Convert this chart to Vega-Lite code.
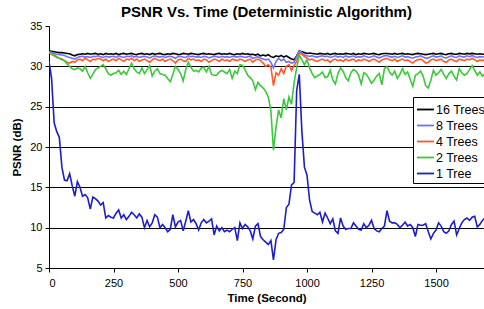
{
"$schema":"https://vega.github.io/schema/vega-lite/v6.json",
"width":435,"height":242,
"autosize":{"type":"none"},
"padding":{"left":49,"top":26,"right":0,"bottom":41},
"background":"white",
"config":{"view":{"stroke":null},"font":"Liberation Sans"},
"title":{"text":"PSNR Vs. Time (Deterministic Algorithm)","font":"Liberation Sans","fontSize":15,"fontWeight":"bold","color":"#000","anchor":"middle","offset":0},
"data":{"values":[
{"t":0,"16 Trees":31.9,"8 Trees":31.8,"4 Trees":31.7,"2 Trees":31.7,"1 Tree":30.6},
{"t":10,"16 Trees":31.85,"8 Trees":31.75,"4 Trees":31.5,"2 Trees":31.6,"1 Tree":28.5},
{"t":20,"16 Trees":31.8,"8 Trees":31.6,"4 Trees":31.3,"2 Trees":31.4,"1 Tree":23.0},
{"t":30,"16 Trees":31.75,"8 Trees":31.5,"4 Trees":31.1,"2 Trees":31.2,"1 Tree":21.9},
{"t":40,"16 Trees":31.7,"8 Trees":31.45,"4 Trees":31.0,"2 Trees":31.0,"1 Tree":21.2},
{"t":50,"16 Trees":31.7,"8 Trees":31.4,"4 Trees":30.9,"2 Trees":30.8,"1 Tree":17.5},
{"t":60,"16 Trees":31.65,"8 Trees":31.35,"4 Trees":30.7,"2 Trees":30.7,"1 Tree":15.9},
{"t":70,"16 Trees":31.6,"8 Trees":31.2,"4 Trees":30.5,"2 Trees":30.3,"1 Tree":15.8},
{"t":80,"16 Trees":31.55,"8 Trees":31.1,"4 Trees":30.4,"2 Trees":30.0,"1 Tree":16.7},
{"t":90,"16 Trees":31.4,"8 Trees":31.0,"4 Trees":30.6,"2 Trees":29.7,"1 Tree":15.2},
{"t":100,"16 Trees":31.3,"8 Trees":30.9,"4 Trees":30.5,"2 Trees":29.6,"1 Tree":13.9},
{"t":110,"16 Trees":31.45,"8 Trees":31.1,"4 Trees":30.8,"2 Trees":29.8,"1 Tree":15.7},
{"t":120,"16 Trees":31.5,"8 Trees":31.2,"4 Trees":30.9,"2 Trees":29.7,"1 Tree":15.0},
{"t":130,"16 Trees":31.55,"8 Trees":31.25,"4 Trees":30.7,"2 Trees":29.4,"1 Tree":13.9},
{"t":140,"16 Trees":31.5,"8 Trees":31.15,"4 Trees":31.0,"2 Trees":30.0,"1 Tree":14.1},
{"t":150,"16 Trees":31.6,"8 Trees":31.2,"4 Trees":30.8,"2 Trees":29.2,"1 Tree":13.7},
{"t":160,"16 Trees":31.5,"8 Trees":31.1,"4 Trees":30.6,"2 Trees":28.5,"1 Tree":12.3},
{"t":170,"16 Trees":31.55,"8 Trees":31.25,"4 Trees":30.9,"2 Trees":29.0,"1 Tree":13.8},
{"t":180,"16 Trees":31.6,"8 Trees":31.2,"4 Trees":30.8,"2 Trees":29.6,"1 Tree":13.6},
{"t":190,"16 Trees":31.5,"8 Trees":31.3,"4 Trees":31.0,"2 Trees":29.8,"1 Tree":13.3},
{"t":200,"16 Trees":31.55,"8 Trees":31.2,"4 Trees":30.9,"2 Trees":30.0,"1 Tree":12.8},
{"t":210,"16 Trees":31.45,"8 Trees":31.1,"4 Trees":30.7,"2 Trees":30.2,"1 Tree":13.1},
{"t":220,"16 Trees":31.6,"8 Trees":31.25,"4 Trees":30.9,"2 Trees":29.7,"1 Tree":11.2},
{"t":230,"16 Trees":31.5,"8 Trees":31.15,"4 Trees":30.6,"2 Trees":29.1,"1 Tree":11.5},
{"t":240,"16 Trees":31.55,"8 Trees":31.2,"4 Trees":30.8,"2 Trees":28.9,"1 Tree":11.3},
{"t":250,"16 Trees":31.5,"8 Trees":31.25,"4 Trees":30.9,"2 Trees":29.1,"1 Tree":11.2},
{"t":260,"16 Trees":31.6,"8 Trees":31.1,"4 Trees":30.7,"2 Trees":29.2,"1 Tree":11.8},
{"t":270,"16 Trees":31.45,"8 Trees":31.3,"4 Trees":31.0,"2 Trees":29.5,"1 Tree":12.2},
{"t":280,"16 Trees":31.55,"8 Trees":31.2,"4 Trees":30.8,"2 Trees":29.0,"1 Tree":11.2},
{"t":290,"16 Trees":31.6,"8 Trees":31.1,"4 Trees":30.6,"2 Trees":29.4,"1 Tree":11.6},
{"t":300,"16 Trees":31.5,"8 Trees":31.25,"4 Trees":30.9,"2 Trees":29.0,"1 Tree":11.0},
{"t":310,"16 Trees":31.55,"8 Trees":31.2,"4 Trees":30.8,"2 Trees":29.7,"1 Tree":11.4},
{"t":320,"16 Trees":31.6,"8 Trees":31.3,"4 Trees":31.0,"2 Trees":30.4,"1 Tree":11.9},
{"t":330,"16 Trees":31.5,"8 Trees":31.15,"4 Trees":30.7,"2 Trees":29.7,"1 Tree":11.6},
{"t":340,"16 Trees":31.45,"8 Trees":31.25,"4 Trees":30.9,"2 Trees":29.3,"1 Tree":11.2},
{"t":350,"16 Trees":31.55,"8 Trees":31.1,"4 Trees":30.6,"2 Trees":29.1,"1 Tree":11.7},
{"t":360,"16 Trees":31.6,"8 Trees":31.2,"4 Trees":30.8,"2 Trees":29.8,"1 Tree":11.3},
{"t":370,"16 Trees":31.5,"8 Trees":31.25,"4 Trees":30.9,"2 Trees":29.1,"1 Tree":10.0},
{"t":380,"16 Trees":31.55,"8 Trees":31.15,"4 Trees":30.7,"2 Trees":29.6,"1 Tree":10.9},
{"t":390,"16 Trees":31.45,"8 Trees":31.05,"4 Trees":30.5,"2 Trees":30.1,"1 Tree":10.1},
{"t":400,"16 Trees":31.6,"8 Trees":31.2,"4 Trees":30.8,"2 Trees":28.8,"1 Tree":10.6},
{"t":410,"16 Trees":31.5,"8 Trees":31.3,"4 Trees":31.0,"2 Trees":29.4,"1 Tree":11.6},
{"t":420,"16 Trees":31.55,"8 Trees":31.2,"4 Trees":30.8,"2 Trees":29.7,"1 Tree":11.3},
{"t":430,"16 Trees":31.6,"8 Trees":31.15,"4 Trees":30.7,"2 Trees":29.1,"1 Tree":10.0},
{"t":440,"16 Trees":31.5,"8 Trees":31.25,"4 Trees":30.9,"2 Trees":29.0,"1 Tree":10.4},
{"t":450,"16 Trees":31.45,"8 Trees":31.1,"4 Trees":30.6,"2 Trees":28.9,"1 Tree":10.0},
{"t":460,"16 Trees":31.55,"8 Trees":31.2,"4 Trees":30.8,"2 Trees":28.5,"1 Tree":9.5},
{"t":470,"16 Trees":31.5,"8 Trees":31.25,"4 Trees":30.9,"2 Trees":28.1,"1 Tree":9.8},
{"t":480,"16 Trees":31.6,"8 Trees":31.15,"4 Trees":30.7,"2 Trees":29.0,"1 Tree":11.6},
{"t":490,"16 Trees":31.55,"8 Trees":31.0,"4 Trees":30.4,"2 Trees":30.0,"1 Tree":10.1},
{"t":500,"16 Trees":31.45,"8 Trees":31.2,"4 Trees":30.8,"2 Trees":29.6,"1 Tree":10.7},
{"t":510,"16 Trees":31.5,"8 Trees":31.25,"4 Trees":30.9,"2 Trees":29.1,"1 Tree":10.9},
{"t":520,"16 Trees":31.6,"8 Trees":31.15,"4 Trees":30.7,"2 Trees":28.2,"1 Tree":9.6},
{"t":530,"16 Trees":31.55,"8 Trees":31.1,"4 Trees":30.6,"2 Trees":29.6,"1 Tree":10.8},
{"t":540,"16 Trees":31.5,"8 Trees":31.3,"4 Trees":31.0,"2 Trees":30.5,"1 Tree":12.1},
{"t":550,"16 Trees":31.6,"8 Trees":31.2,"4 Trees":30.8,"2 Trees":29.9,"1 Tree":10.7},
{"t":560,"16 Trees":31.55,"8 Trees":31.25,"4 Trees":30.9,"2 Trees":29.4,"1 Tree":11.0},
{"t":570,"16 Trees":31.5,"8 Trees":31.15,"4 Trees":30.7,"2 Trees":29.5,"1 Tree":10.5},
{"t":580,"16 Trees":31.45,"8 Trees":31.2,"4 Trees":30.8,"2 Trees":29.3,"1 Tree":9.7},
{"t":590,"16 Trees":31.55,"8 Trees":31.1,"4 Trees":30.6,"2 Trees":29.8,"1 Tree":10.6},
{"t":600,"16 Trees":31.6,"8 Trees":31.25,"4 Trees":30.9,"2 Trees":29.9,"1 Tree":11.0},
{"t":610,"16 Trees":31.5,"8 Trees":31.2,"4 Trees":30.8,"2 Trees":29.3,"1 Tree":10.6},
{"t":620,"16 Trees":31.55,"8 Trees":31.05,"4 Trees":30.5,"2 Trees":30.0,"1 Tree":10.8},
{"t":630,"16 Trees":31.5,"8 Trees":31.15,"4 Trees":30.7,"2 Trees":29.0,"1 Tree":11.1},
{"t":640,"16 Trees":31.45,"8 Trees":31.25,"4 Trees":30.9,"2 Trees":28.9,"1 Tree":9.1},
{"t":650,"16 Trees":31.55,"8 Trees":31.2,"4 Trees":30.8,"2 Trees":28.9,"1 Tree":10.2},
{"t":660,"16 Trees":31.6,"8 Trees":31.1,"4 Trees":30.6,"2 Trees":29.3,"1 Tree":9.6},
{"t":670,"16 Trees":31.5,"8 Trees":31.25,"4 Trees":30.9,"2 Trees":29.5,"1 Tree":10.0},
{"t":680,"16 Trees":31.55,"8 Trees":31.15,"4 Trees":30.7,"2 Trees":29.3,"1 Tree":9.5},
{"t":690,"16 Trees":31.5,"8 Trees":31.2,"4 Trees":30.8,"2 Trees":29.1,"1 Tree":9.7},
{"t":700,"16 Trees":31.6,"8 Trees":31.1,"4 Trees":30.6,"2 Trees":29.6,"1 Tree":9.5},
{"t":710,"16 Trees":31.5,"8 Trees":31.25,"4 Trees":30.9,"2 Trees":28.5,"1 Tree":9.8},
{"t":720,"16 Trees":31.45,"8 Trees":31.2,"4 Trees":30.8,"2 Trees":29.4,"1 Tree":10.0},
{"t":730,"16 Trees":31.55,"8 Trees":31.15,"4 Trees":30.7,"2 Trees":29.1,"1 Tree":8.4},
{"t":740,"16 Trees":31.5,"8 Trees":31.25,"4 Trees":30.9,"2 Trees":30.2,"1 Tree":10.6},
{"t":750,"16 Trees":31.6,"8 Trees":31.2,"4 Trees":30.8,"2 Trees":30.1,"1 Tree":9.9},
{"t":760,"16 Trees":31.5,"8 Trees":31.1,"4 Trees":30.6,"2 Trees":29.6,"1 Tree":10.4},
{"t":770,"16 Trees":31.55,"8 Trees":31.2,"4 Trees":30.8,"2 Trees":28.9,"1 Tree":10.1},
{"t":780,"16 Trees":31.45,"8 Trees":31.25,"4 Trees":30.9,"2 Trees":28.6,"1 Tree":9.6},
{"t":790,"16 Trees":31.5,"8 Trees":31.0,"4 Trees":30.5,"2 Trees":28.2,"1 Tree":8.6},
{"t":800,"16 Trees":31.4,"8 Trees":31.1,"4 Trees":30.8,"2 Trees":27.1,"1 Tree":10.2},
{"t":810,"16 Trees":31.5,"8 Trees":31.2,"4 Trees":30.9,"2 Trees":28.0,"1 Tree":10.5},
{"t":820,"16 Trees":31.3,"8 Trees":31.0,"4 Trees":30.7,"2 Trees":27.6,"1 Tree":8.9},
{"t":830,"16 Trees":31.4,"8 Trees":30.9,"4 Trees":30.4,"2 Trees":27.3,"1 Tree":8.5},
{"t":840,"16 Trees":31.3,"8 Trees":30.8,"4 Trees":30.0,"2 Trees":26.9,"1 Tree":8.2},
{"t":850,"16 Trees":31.45,"8 Trees":30.9,"4 Trees":30.2,"2 Trees":26.2,"1 Tree":7.9},
{"t":860,"16 Trees":31.2,"8 Trees":30.5,"4 Trees":29.9,"2 Trees":24.5,"1 Tree":8.4},
{"t":870,"16 Trees":31.1,"8 Trees":29.8,"4 Trees":27.6,"2 Trees":19.6,"1 Tree":6.0},
{"t":880,"16 Trees":31.3,"8 Trees":30.6,"4 Trees":29.2,"2 Trees":22.5,"1 Tree":8.5},
{"t":890,"16 Trees":31.2,"8 Trees":31.0,"4 Trees":28.9,"2 Trees":24.6,"1 Tree":9.3},
{"t":900,"16 Trees":31.35,"8 Trees":30.7,"4 Trees":29.7,"2 Trees":23.6,"1 Tree":9.4},
{"t":910,"16 Trees":31.15,"8 Trees":30.9,"4 Trees":29.1,"2 Trees":26.0,"1 Tree":9.8},
{"t":920,"16 Trees":31.3,"8 Trees":30.5,"4 Trees":30.0,"2 Trees":24.6,"1 Tree":12.5},
{"t":930,"16 Trees":31.1,"8 Trees":30.6,"4 Trees":30.2,"2 Trees":26.2,"1 Tree":12.9},
{"t":940,"16 Trees":30.9,"8 Trees":30.4,"4 Trees":29.5,"2 Trees":25.3,"1 Tree":15.3},
{"t":950,"16 Trees":30.8,"8 Trees":30.5,"4 Trees":30.1,"2 Trees":28.0,"1 Tree":15.6},
{"t":960,"16 Trees":31.3,"8 Trees":31.2,"4 Trees":30.6,"2 Trees":29.8,"1 Tree":27.0},
{"t":970,"16 Trees":31.9,"8 Trees":31.9,"4 Trees":31.6,"2 Trees":31.4,"1 Tree":29.0},
{"t":980,"16 Trees":31.8,"8 Trees":31.7,"4 Trees":31.5,"2 Trees":30.8,"1 Tree":22.0},
{"t":990,"16 Trees":31.7,"8 Trees":31.4,"4 Trees":31.2,"2 Trees":30.2,"1 Tree":17.5},
{"t":1000,"16 Trees":31.6,"8 Trees":31.3,"4 Trees":31.0,"2 Trees":30.8,"1 Tree":16.5},
{"t":1010,"16 Trees":31.65,"8 Trees":31.25,"4 Trees":30.8,"2 Trees":29.8,"1 Tree":13.4},
{"t":1020,"16 Trees":31.6,"8 Trees":31.3,"4 Trees":30.9,"2 Trees":29.1,"1 Tree":12.0},
{"t":1030,"16 Trees":31.55,"8 Trees":31.2,"4 Trees":30.7,"2 Trees":28.6,"1 Tree":11.8},
{"t":1040,"16 Trees":31.5,"8 Trees":31.15,"4 Trees":30.6,"2 Trees":28.8,"1 Tree":11.6},
{"t":1050,"16 Trees":31.6,"8 Trees":31.25,"4 Trees":30.8,"2 Trees":29.0,"1 Tree":11.9},
{"t":1060,"16 Trees":31.55,"8 Trees":31.3,"4 Trees":30.9,"2 Trees":29.3,"1 Tree":10.7},
{"t":1070,"16 Trees":31.5,"8 Trees":31.2,"4 Trees":30.7,"2 Trees":28.6,"1 Tree":11.8},
{"t":1080,"16 Trees":31.6,"8 Trees":31.25,"4 Trees":30.8,"2 Trees":28.7,"1 Tree":11.2},
{"t":1090,"16 Trees":31.45,"8 Trees":31.1,"4 Trees":30.5,"2 Trees":29.5,"1 Tree":10.5},
{"t":1100,"16 Trees":31.55,"8 Trees":31.2,"4 Trees":30.8,"2 Trees":28.3,"1 Tree":11.1},
{"t":1110,"16 Trees":31.6,"8 Trees":31.3,"4 Trees":30.9,"2 Trees":27.8,"1 Tree":9.6},
{"t":1120,"16 Trees":31.5,"8 Trees":31.15,"4 Trees":30.7,"2 Trees":29.1,"1 Tree":9.3},
{"t":1130,"16 Trees":31.55,"8 Trees":31.25,"4 Trees":30.8,"2 Trees":29.8,"1 Tree":11.2},
{"t":1140,"16 Trees":31.5,"8 Trees":31.1,"4 Trees":30.6,"2 Trees":29.4,"1 Tree":10.2},
{"t":1150,"16 Trees":31.6,"8 Trees":31.3,"4 Trees":30.9,"2 Trees":28.6,"1 Tree":9.8},
{"t":1160,"16 Trees":31.55,"8 Trees":31.15,"4 Trees":30.7,"2 Trees":28.2,"1 Tree":9.9},
{"t":1170,"16 Trees":31.5,"8 Trees":31.2,"4 Trees":30.8,"2 Trees":29.2,"1 Tree":9.9},
{"t":1180,"16 Trees":31.6,"8 Trees":31.3,"4 Trees":30.9,"2 Trees":29.6,"1 Tree":10.6},
{"t":1190,"16 Trees":31.45,"8 Trees":31.1,"4 Trees":30.6,"2 Trees":29.4,"1 Tree":10.2},
{"t":1200,"16 Trees":31.55,"8 Trees":31.2,"4 Trees":30.8,"2 Trees":28.9,"1 Tree":9.8},
{"t":1210,"16 Trees":31.5,"8 Trees":31.15,"4 Trees":30.7,"2 Trees":27.8,"1 Tree":9.7},
{"t":1220,"16 Trees":31.6,"8 Trees":31.3,"4 Trees":30.9,"2 Trees":29.2,"1 Tree":10.5},
{"t":1230,"16 Trees":31.55,"8 Trees":31.2,"4 Trees":30.8,"2 Trees":29.0,"1 Tree":10.0},
{"t":1240,"16 Trees":31.5,"8 Trees":31.1,"4 Trees":30.6,"2 Trees":28.5,"1 Tree":10.3},
{"t":1250,"16 Trees":31.55,"8 Trees":31.2,"4 Trees":30.8,"2 Trees":27.9,"1 Tree":10.9},
{"t":1260,"16 Trees":31.6,"8 Trees":31.3,"4 Trees":30.9,"2 Trees":28.3,"1 Tree":9.9},
{"t":1270,"16 Trees":31.5,"8 Trees":31.15,"4 Trees":30.7,"2 Trees":28.8,"1 Tree":9.6},
{"t":1280,"16 Trees":31.45,"8 Trees":31.05,"4 Trees":30.5,"2 Trees":29.1,"1 Tree":9.5},
{"t":1290,"16 Trees":31.55,"8 Trees":31.2,"4 Trees":30.8,"2 Trees":27.7,"1 Tree":9.9},
{"t":1300,"16 Trees":31.6,"8 Trees":31.3,"4 Trees":30.9,"2 Trees":29.7,"1 Tree":10.2},
{"t":1310,"16 Trees":31.6,"8 Trees":31.35,"4 Trees":31.0,"2 Trees":30.0,"1 Tree":12.1},
{"t":1320,"16 Trees":31.55,"8 Trees":31.2,"4 Trees":30.8,"2 Trees":29.3,"1 Tree":10.8},
{"t":1330,"16 Trees":31.5,"8 Trees":31.15,"4 Trees":30.7,"2 Trees":28.9,"1 Tree":10.6},
{"t":1340,"16 Trees":31.6,"8 Trees":31.25,"4 Trees":30.9,"2 Trees":29.4,"1 Tree":10.6},
{"t":1350,"16 Trees":31.5,"8 Trees":31.1,"4 Trees":30.6,"2 Trees":28.5,"1 Tree":10.4},
{"t":1360,"16 Trees":31.55,"8 Trees":31.2,"4 Trees":30.8,"2 Trees":29.0,"1 Tree":10.0},
{"t":1370,"16 Trees":31.6,"8 Trees":31.3,"4 Trees":30.9,"2 Trees":29.7,"1 Tree":10.3},
{"t":1380,"16 Trees":31.5,"8 Trees":31.15,"4 Trees":30.7,"2 Trees":29.0,"1 Tree":10.7},
{"t":1390,"16 Trees":31.55,"8 Trees":31.2,"4 Trees":30.8,"2 Trees":29.3,"1 Tree":10.2},
{"t":1400,"16 Trees":31.5,"8 Trees":31.1,"4 Trees":30.6,"2 Trees":28.4,"1 Tree":10.4},
{"t":1410,"16 Trees":31.45,"8 Trees":31.0,"4 Trees":30.4,"2 Trees":27.5,"1 Tree":10.0},
{"t":1420,"16 Trees":31.55,"8 Trees":31.15,"4 Trees":30.7,"2 Trees":28.9,"1 Tree":8.9},
{"t":1430,"16 Trees":31.6,"8 Trees":31.2,"4 Trees":30.8,"2 Trees":29.1,"1 Tree":10.4},
{"t":1440,"16 Trees":31.55,"8 Trees":31.3,"4 Trees":30.9,"2 Trees":29.4,"1 Tree":10.3},
{"t":1450,"16 Trees":31.5,"8 Trees":31.15,"4 Trees":30.7,"2 Trees":28.8,"1 Tree":10.3},
{"t":1460,"16 Trees":31.45,"8 Trees":31.0,"4 Trees":30.4,"2 Trees":27.6,"1 Tree":10.5},
{"t":1470,"16 Trees":31.5,"8 Trees":31.05,"4 Trees":30.5,"2 Trees":27.3,"1 Tree":9.5},
{"t":1480,"16 Trees":31.55,"8 Trees":31.2,"4 Trees":30.8,"2 Trees":28.3,"1 Tree":8.6},
{"t":1490,"16 Trees":31.6,"8 Trees":31.3,"4 Trees":30.9,"2 Trees":29.5,"1 Tree":9.3},
{"t":1500,"16 Trees":31.5,"8 Trees":31.15,"4 Trees":30.7,"2 Trees":28.9,"1 Tree":9.7},
{"t":1510,"16 Trees":31.55,"8 Trees":31.2,"4 Trees":30.8,"2 Trees":29.2,"1 Tree":10.6},
{"t":1520,"16 Trees":31.6,"8 Trees":31.3,"4 Trees":30.9,"2 Trees":29.6,"1 Tree":10.2},
{"t":1530,"16 Trees":31.5,"8 Trees":31.1,"4 Trees":30.6,"2 Trees":29.0,"1 Tree":9.5},
{"t":1540,"16 Trees":31.45,"8 Trees":31.05,"4 Trees":30.5,"2 Trees":28.5,"1 Tree":9.3},
{"t":1550,"16 Trees":31.55,"8 Trees":31.2,"4 Trees":30.8,"2 Trees":29.1,"1 Tree":9.6},
{"t":1560,"16 Trees":31.6,"8 Trees":31.3,"4 Trees":30.9,"2 Trees":29.4,"1 Tree":10.4},
{"t":1570,"16 Trees":31.5,"8 Trees":31.15,"4 Trees":30.7,"2 Trees":28.8,"1 Tree":10.8},
{"t":1580,"16 Trees":31.5,"8 Trees":31.1,"4 Trees":30.6,"2 Trees":28.3,"1 Tree":9.1},
{"t":1590,"16 Trees":31.6,"8 Trees":31.3,"4 Trees":30.9,"2 Trees":29.7,"1 Tree":9.9},
{"t":1600,"16 Trees":31.55,"8 Trees":31.2,"4 Trees":30.8,"2 Trees":29.2,"1 Tree":10.6},
{"t":1610,"16 Trees":31.5,"8 Trees":31.15,"4 Trees":30.7,"2 Trees":28.9,"1 Tree":11.0},
{"t":1620,"16 Trees":31.6,"8 Trees":31.3,"4 Trees":30.9,"2 Trees":29.1,"1 Tree":11.2},
{"t":1630,"16 Trees":31.55,"8 Trees":31.2,"4 Trees":30.8,"2 Trees":29.6,"1 Tree":10.9},
{"t":1640,"16 Trees":31.6,"8 Trees":31.35,"4 Trees":31.0,"2 Trees":30.1,"1 Tree":11.3},
{"t":1650,"16 Trees":31.55,"8 Trees":31.2,"4 Trees":30.8,"2 Trees":29.5,"1 Tree":11.4},
{"t":1660,"16 Trees":31.5,"8 Trees":31.1,"4 Trees":30.6,"2 Trees":28.9,"1 Tree":10.1},
{"t":1670,"16 Trees":31.55,"8 Trees":31.2,"4 Trees":30.8,"2 Trees":29.3,"1 Tree":10.4},
{"t":1680,"16 Trees":31.5,"8 Trees":31.15,"4 Trees":30.7,"2 Trees":28.8,"1 Tree":10.9},
{"t":1690,"16 Trees":31.55,"8 Trees":31.2,"4 Trees":30.9,"2 Trees":29.1,"1 Tree":11.2}
]},
"transform":[{"fold":["16 Trees","8 Trees","4 Trees","2 Trees","1 Tree"],"as":["Series","PSNR"]}],
"mark":{"type":"line","strokeWidth":1.6,"clip":true},
"encoding":{
"x":{"field":"t","type":"quantitative","scale":{"domain":[0,1686],"nice":false},
 "axis":{"title":"Time (Second)","values":[0,250,500,750,1000,1250,1500],"format":"d","grid":false,"domainColor":"#000","domainWidth":1,"tickColor":"#000","tickSize":4,"labelFont":"Liberation Sans","labelFontSize":11,"labelColor":"#000","labelPadding":5,"titleFont":"Liberation Sans","titleFontSize":11.5,"titleFontWeight":"bold","titleColor":"#000","titlePadding":4}},
"y":{"field":"PSNR","type":"quantitative","scale":{"domain":[5,35],"nice":false},
 "axis":{"title":"PSNR (dB)","values":[5,10,15,20,25,30,35],"grid":true,"gridColor":"#000","gridWidth":1,"gridOpacity":{"condition":{"test":"datum.value >= 35","value":0},"value":1},"domainColor":"#000","domainWidth":1,"tickColor":"#000","tickSize":4,"labelFont":"Liberation Sans","labelFontSize":11,"labelColor":"#000","labelPadding":3,"titleFont":"Liberation Sans","titleFontSize":11.5,"titleFontWeight":"bold","titleColor":"#000","titlePadding":7}},
"color":{"field":"Series","type":"nominal","scale":{"domain":["16 Trees","8 Trees","4 Trees","2 Trees","1 Tree"],"range":["#000000","#7070ff","#ff5a28","#3cc83c","#1e1ec8"]},
 "legend":{"title":null,"orient":"none","legendX":364,"legendY":71,"symbolType":"stroke","symbolSize":289,"symbolStrokeWidth":1.8,"labelFont":"Liberation Sans","labelFontSize":12.5,"labelColor":"#000","labelOffset":1,"strokeColor":"#000","fillColor":"#fff","padding":3,"rowPadding":0}}
}
}
